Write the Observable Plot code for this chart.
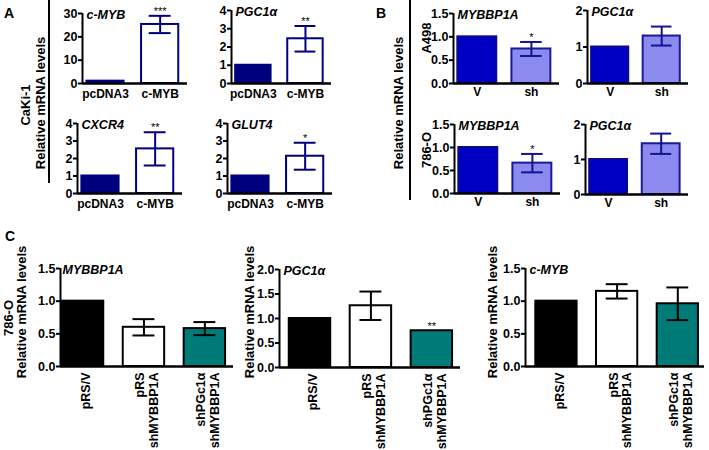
<!DOCTYPE html>
<html><head><meta charset="utf-8">
<script src="https://cdn.jsdelivr.net/npm/d3@7"></script>
<script src="https://cdn.jsdelivr.net/npm/@observablehq/plot@0.6"></script>
<style>
body{margin:0;background:#fff;}
#fig{position:relative;width:709px;height:450px;overflow:hidden;background:#fff;font-family:"Liberation Sans",Arial,sans-serif;font-weight:bold;color:#000;}
.lbl{position:absolute;white-space:nowrap;font-size:13px;line-height:1;}
.rot{transform:translate(-50%,-50%) rotate(-90deg);}
.ctr{transform:translate(-50%,-50%);}
.vline{position:absolute;background:#000;width:2px;}
</style></head><body><div id="fig"></div>
<script>
// ---------- data ----------
const catsA = ["pcDNA3", "c-MYB"];
const catsB = ["V", "sh"];
const catsC = ["pRS/V", "pRS\nshMYBBP1A", "shPGc1α\nshMYBBP1A"];

const aMybVals = [1, 25.3],  aMybErr = [0, 3.7],  aMybStars = ["", "***"];
const aPgcVals = [1, 2.45],  aPgcErr = [0, 0.7],  aPgcStars = ["", "**"];
const aCxcVals = [1, 2.55],  aCxcErr = [0, 0.95], aCxcStars = ["", "**"];
const aGluVals = [1, 2.13],  aGluErr = [0, 0.77], aGluStars = ["", "*"];

const bMybA498Vals = [1, 0.74], bMybA498Err = [0, 0.15], bMybA498Stars = ["", "*"];
const bPgcA498Vals = [1, 1.3],  bPgcA498Err = [0, 0.26], bPgcA498Stars = ["", ""];
const bMyb786Vals  = [1, 0.66], bMyb786Err  = [0, 0.2],  bMyb786Stars  = ["", "*"];
const bPgc786Vals  = [1, 1.45], bPgc786Err  = [0, 0.29], bPgc786Stars  = ["", ""];

const cMybbVals = [1, 0.60, 0.58], cMybbErr = [0, 0.125, 0.10], cMybbStars = ["", "", ""];
const cPgcVals  = [1, 1.26, 0.75], cPgcErr  = [0, 0.29, 0],     cPgcStars  = ["", "", "**"];
const cCmybVals = [1, 1.15, 0.96], cCmybErr = [0, 0.11, 0.25],  cCmybStars = ["", "", ""];

const ticks30 = [0, 10, 20, 30];
const ticks4 = [0, 1, 2, 3, 4];
const ticks15 = [0, 0.5, 1.0, 1.5];
const ticks2int = [0, 1, 2];
const ticks2 = [0, 0.5, 1.0, 1.5, 2.0];

// colours
const navy = "#00007e";
const fillsA = [navy, "#ffffff"], strokesA = [navy, navy];
const fillsB = ["#0000c4", "#8b8bef"], strokesB = ["#0a0a8c", "#1a1a96"];
const fillsC = ["#000000", "#ffffff", "#007b78"], strokesC = ["#000", "#000", "#000"];

// ---------- drawing ----------
const fig = document.getElementById("fig");
const fontFam = '"Liberation Sans", Arial, sans-serif';

function panel(o) {
  const rows = o.cats.map((c, i) => ({i, c, v: o.vals[i], e: o.errs[i], star: o.stars[i],
    fill: o.fills[i], stroke: o.strokes[i]}));
  const withErr = rows.filter(d => d.e > 0);
  const mL = 40, mR = 12, mT = 24, mB = o.mB || 30;
  const W = o.x1 - o.x0, H = o.yb - o.yt;
  const [xa, xb] = o.xDomain;
  const ymax = o.yDomain[1];
  const hw = o.hw, cap = o.cap;
  const ec = o.errColor;
  const marks = [
    Plot.rectY(rows, {x1: d => d.i - hw, x2: d => d.i + hw, y1: 0, y2: "v", fill: "fill", stroke: "stroke", strokeWidth: 2}),
    Plot.ruleX(withErr, {x: "i", y1: d => d.v - d.e, y2: d => d.v + d.e, stroke: ec, strokeWidth: 2}),
    Plot.ruleY(withErr, {y: d => d.v + d.e, x1: d => d.i - cap, x2: d => d.i + cap, stroke: ec, strokeWidth: 2}),
    Plot.ruleY(withErr, {y: d => d.v - d.e, x1: d => d.i - cap, x2: d => d.i + cap, stroke: ec, strokeWidth: 2}),
    Plot.ruleX([xa], {y1: 0, y2: ymax, stroke: "#000", strokeWidth: 2}),
    Plot.ruleY([0], {x1: xa, x2: xb, stroke: "#000", strokeWidth: 2.5}),
    Plot.axisY({ticks: o.ticks, tickFormat: o.fmt, tickSize: 4, tickPadding: 1, strokeWidth: 2, label: null, fontSize: 12.5}),
    Plot.text([o.title], {x: xa, y: ymax, text: d => d, textAnchor: "start", lineAnchor: "middle",
      dx: o.titleDx ?? 4, dy: 1, fontStyle: "italic", fontSize: 12.5}),
    Plot.text(rows.filter(d => d.star), {x: "i", y: d => d.v + d.e, text: "star", lineAnchor: "bottom",
      dy: -1, fontSize: 11, fontWeight: "normal"})
  ];
  if (o.rotLabels) {
    marks.push(Plot.text(rows, {x: "i", y: 0, text: "c", rotate: -90, textAnchor: "end", lineAnchor: "middle",
      lineHeight: 1.1, dx: 3, dy: 6, fontSize: 12.5}));
  } else {
    marks.push(Plot.text(rows, {x: "i", y: 0, text: "c", lineAnchor: "top", dy: o.labDy || 6, fontSize: 12}));
  }
  const svg = Plot.plot({
    width: W + mL + mR, height: H + mT + mB,
    marginLeft: mL, marginRight: mR, marginTop: mT, marginBottom: mB,
    x: {type: "linear", domain: o.xDomain, axis: null},
    y: {domain: o.yDomain, axis: null},
    color: {type: "identity"},
    style: {position: "absolute", left: (o.x0 - mL) + "px", top: (o.yt - mT) + "px", overflow: "visible",
      fontFamily: fontFam, fontWeight: "bold", fontSize: "12.5px", color: "#000", background: "transparent", maxWidth: "none"},
    marks
  });
  fig.appendChild(svg);
}

const fmtInt = d3.format("d"), fmt1 = d3.format(".1f");
const aDom = [-0.42, 1.5], bDom = [-0.44, 1.52];
const baseA = {cats: catsA, fills: fillsA, strokes: strokesA, errColor: navy, hw: 0.34, cap: 0.2, xDomain: aDom, fmt: fmtInt, labDy: 6};
const baseB = {cats: catsB, fills: fillsB, strokes: strokesB, errColor: "#14148c", hw: 0.36, cap: 0.2, xDomain: bDom, fmt: fmt1, labDy: 4};
const baseC = {cats: catsC, fills: fillsC, strokes: strokesC, errColor: "#000", hw: 0.34, cap: 0.18, fmt: fmt1, rotLabels: true, mB: 90};

panel({...baseA, title: "c-MYB", vals: aMybVals, errs: aMybErr, stars: aMybStars, yDomain: [0, 30], ticks: ticks30, x0: 82, x1: 187, yt: 13, yb: 83});
panel({...baseA, title: "PGC1α", vals: aPgcVals, errs: aPgcErr, stars: aPgcStars, yDomain: [0, 4], ticks: ticks4, x0: 231, x1: 331, yt: 10, yb: 83});
panel({...baseA, title: "CXCR4", vals: aCxcVals, errs: aCxcErr, stars: aCxcStars, yDomain: [0, 4], ticks: ticks4, x0: 77, x1: 182, yt: 123, yb: 193});
panel({...baseA, title: "GLUT4", vals: aGluVals, errs: aGluErr, stars: aGluStars, yDomain: [0, 4], ticks: ticks4, x0: 227, x1: 332, yt: 123, yb: 193});

panel({...baseB, title: "MYBBP1A", vals: bMybA498Vals, errs: bMybA498Err, stars: bMybA498Stars, yDomain: [0, 1.5], ticks: ticks15, x0: 453, x1: 559, yt: 13, yb: 83});
panel({...baseB, title: "PGC1α", vals: bPgcA498Vals, errs: bPgcA498Err, stars: bPgcA498Stars, yDomain: [0, 2], ticks: ticks2int, fmt: fmtInt, x0: 587, x1: 688, yt: 10, yb: 83});
panel({...baseB, title: "MYBBP1A", vals: bMyb786Vals, errs: bMyb786Err, stars: bMyb786Stars, yDomain: [0, 1.5], ticks: ticks15, x0: 454, x1: 560, yt: 124, yb: 193});
panel({...baseB, title: "PGC1α", vals: bPgc786Vals, errs: bPgc786Err, stars: bPgc786Stars, yDomain: [0, 2], ticks: ticks2int, fmt: fmtInt, x0: 585, x1: 688, yt: 124, yb: 194});

panel({...baseC, title: "MYBBP1A", vals: cMybbVals, errs: cMybbErr, stars: cMybbStars, yDomain: [0, 1.5], ticks: ticks15, xDomain: [-0.37, 2.47], x0: 60, x1: 233, yt: 268, yb: 366, titleDx: 2});
panel({...baseC, title: "PGC1α", vals: cPgcVals, errs: cPgcErr, stars: cPgcStars, yDomain: [0, 2], ticks: ticks2, xDomain: [-0.5, 2.47], x0: 279, x1: 460, yt: 269, yb: 367});
panel({...baseC, title: "c-MYB", vals: cCmybVals, errs: cCmybErr, stars: cCmybStars, yDomain: [0, 1.5], ticks: ticks15, xDomain: [-0.51, 2.44], x0: 525, x1: 704, yt: 268, yb: 366});

// ---------- labels & frame lines ----------
function label(text, x, y, rot, size) {
  const d = document.createElement("div");
  d.className = "lbl " + (rot ? "rot" : "ctr");
  d.style.left = x + "px"; d.style.top = y + "px";
  if (size) d.style.fontSize = size + "px";
  d.textContent = text;
  fig.appendChild(d);
}
function vline(x, y0, y1) {
  const d = document.createElement("div");
  d.className = "vline";
  d.style.left = (x - 1) + "px"; d.style.top = y0 + "px"; d.style.height = (y1 - y0) + "px";
  fig.appendChild(d);
}
label("A", 9, 13, false, 14);
label("B", 381, 13, false, 14);
label("C", 10, 236, false, 14);
label("CaKi-1", 25, 105, true);
label("Relative mRNA levels", 40, 103, true);
vline(49, 0, 183);
label("Relative mRNA levels", 398, 103, true);
label("A498", 426, 38, true);
label("786-O", 426, 150, true);
vline(410, 0, 200);
label("786-O", 8, 318, true);
label("Relative mRNA levels", 21, 312, true);
label("Relative mRNA levels", 249, 312, true);
label("Relative mRNA levels", 492, 312, true);
</script></body></html>
